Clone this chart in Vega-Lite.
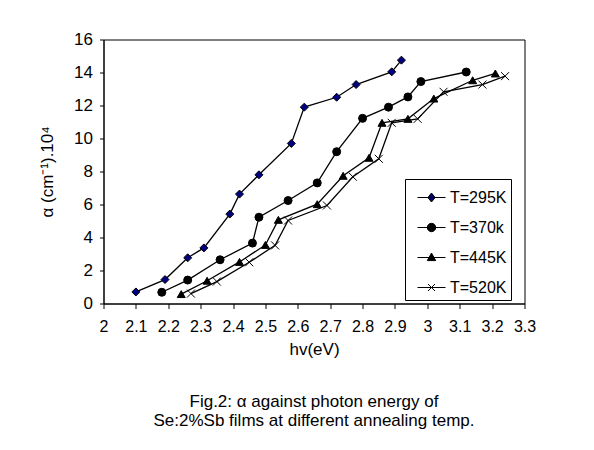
{
  "$schema": "https://vega.github.io/schema/vega-lite/v6.json",
  "autosize": "none",
  "width": 421,
  "height": 264,
  "padding": {"left": 103.5, "top": 39.5, "right": 69.5, "bottom": 146.5},
  "background": "white",
  "config": {
    "font": "Liberation Sans",
    "view": {"stroke": "black", "strokeWidth": 1},
    "axis": {"grid": false, "domainColor": "black", "tickColor": "black", "labelColor": "black", "titleColor": "black", "labelFont": "Liberation Sans", "titleFont": "Liberation Sans", "titleFontWeight": "normal"}
  },
  "title": {
    "text": ["Fig.2: α against photon energy of", "Se:2%Sb films at different annealing temp."],
    "orient": "bottom",
    "anchor": "middle",
    "fontSize": 17,
    "fontWeight": "normal",
    "font": "Liberation Sans",
    "color": "black",
    "offset": 36,
    "lineHeight": 19
  },
  "data": {
    "values": [
      {"s": "T=295K", "e": 2.10, "a": 0.70},
      {"s": "T=295K", "e": 2.19, "a": 1.45},
      {"s": "T=295K", "e": 2.26, "a": 2.77},
      {"s": "T=295K", "e": 2.31, "a": 3.37},
      {"s": "T=295K", "e": 2.39, "a": 5.42},
      {"s": "T=295K", "e": 2.42, "a": 6.63},
      {"s": "T=295K", "e": 2.48, "a": 7.80},
      {"s": "T=295K", "e": 2.58, "a": 9.70},
      {"s": "T=295K", "e": 2.62, "a": 11.90},
      {"s": "T=295K", "e": 2.72, "a": 12.50},
      {"s": "T=295K", "e": 2.78, "a": 13.27},
      {"s": "T=295K", "e": 2.89, "a": 14.04},
      {"s": "T=295K", "e": 2.92, "a": 14.75},
      {"s": "T=370k", "e": 2.18, "a": 0.68},
      {"s": "T=370k", "e": 2.26, "a": 1.42},
      {"s": "T=370k", "e": 2.36, "a": 2.65},
      {"s": "T=370k", "e": 2.46, "a": 3.66},
      {"s": "T=370k", "e": 2.48, "a": 5.23},
      {"s": "T=370k", "e": 2.57, "a": 6.24},
      {"s": "T=370k", "e": 2.66, "a": 7.31},
      {"s": "T=370k", "e": 2.72, "a": 9.20},
      {"s": "T=370k", "e": 2.80, "a": 11.22},
      {"s": "T=370k", "e": 2.88, "a": 11.90},
      {"s": "T=370k", "e": 2.94, "a": 12.52},
      {"s": "T=370k", "e": 2.98, "a": 13.45},
      {"s": "T=370k", "e": 3.12, "a": 14.03},
      {"s": "T=445K", "e": 2.24, "a": 0.57},
      {"s": "T=445K", "e": 2.32, "a": 1.38},
      {"s": "T=445K", "e": 2.42, "a": 2.52},
      {"s": "T=445K", "e": 2.50, "a": 3.55},
      {"s": "T=445K", "e": 2.54, "a": 5.07},
      {"s": "T=445K", "e": 2.66, "a": 6.02},
      {"s": "T=445K", "e": 2.74, "a": 7.74},
      {"s": "T=445K", "e": 2.82, "a": 8.83},
      {"s": "T=445K", "e": 2.86, "a": 10.95},
      {"s": "T=445K", "e": 2.94, "a": 11.19},
      {"s": "T=445K", "e": 3.02, "a": 12.42},
      {"s": "T=445K", "e": 3.14, "a": 13.53},
      {"s": "T=445K", "e": 3.21, "a": 13.94},
      {"s": "T=520K", "e": 2.27, "a": 0.60},
      {"s": "T=520K", "e": 2.35, "a": 1.33},
      {"s": "T=520K", "e": 2.45, "a": 2.50},
      {"s": "T=520K", "e": 2.53, "a": 3.52},
      {"s": "T=520K", "e": 2.57, "a": 5.03},
      {"s": "T=520K", "e": 2.69, "a": 5.94},
      {"s": "T=520K", "e": 2.77, "a": 7.68},
      {"s": "T=520K", "e": 2.85, "a": 8.77},
      {"s": "T=520K", "e": 2.89, "a": 10.95},
      {"s": "T=520K", "e": 2.97, "a": 11.19},
      {"s": "T=520K", "e": 3.05, "a": 12.83},
      {"s": "T=520K", "e": 3.17, "a": 13.27},
      {"s": "T=520K", "e": 3.24, "a": 13.78}
    ]
  },
  "encoding": {
    "x": {
      "field": "e", "type": "quantitative",
      "scale": {"domain": [2, 3.3], "nice": false, "zero": false},
      "axis": {"values": [2, 2.1, 2.2, 2.3, 2.4, 2.5, 2.6, 2.7, 2.8, 2.9, 3, 3.1, 3.2, 3.3], "format": ".1~f", "labelFontSize": 16, "tickSize": 5, "labelPadding": 10, "title": "hv(eV)", "titleFontSize": 17, "titlePadding": 7, "labelFlush": false, "labelOverlap": false}
    },
    "y": {
      "field": "a", "type": "quantitative",
      "scale": {"domain": [0, 16], "nice": false},
      "axis": {"values": [0, 2, 4, 6, 8, 10, 12, 14, 16], "labelFontSize": 17, "tickSize": 4, "labelPadding": 7, "title": "α (cm⁻¹).10⁴", "titleFontSize": 17, "titlePadding": 17, "labelFlush": false, "labelOverlap": false}
    }
  },
  "layer": [
    {
      "mark": {"type": "line", "color": "black", "strokeWidth": 1.3},
      "encoding": {"detail": {"field": "s"}}
    },
    {
      "mark": {"type": "point", "filled": true, "stroke": "black", "strokeWidth": 1, "opacity": 1, "size": 64},
      "encoding": {
        "shape": {"field": "s", "type": "nominal", "legend": null,
          "scale": {"domain": ["T=295K", "T=370k", "T=445K", "T=520K"], "range": ["diamond", "circle", "triangle-up", "M-1,-1L1,1M1,-1L-1,1"]}},
        "fill": {"field": "s", "type": "nominal", "legend": null,
          "scale": {"domain": ["T=295K", "T=370k", "T=445K", "T=520K"], "range": ["#000080", "black", "black", "black"]}}
      }
    },
    {
      "transform": [{"filter": "datum.e < 0"}],
      "mark": {"type": "point", "filled": true, "strokeWidth": 1, "opacity": 1},
      "encoding": {
        "shape": {"field": "s", "type": "nominal",
          "scale": {"domain": ["T=295K", "T=370k", "T=445K", "T=520K"], "range": [
            "M-1,0L1,0M0,-0.32L0.26,0L0,0.32L-0.26,0Z",
            "M-1,0L1,0M-0.3,0A0.3,0.3 0 1,0 0.3,0A0.3,0.3 0 1,0 -0.3,0Z",
            "M-1,0L1,0M0,-0.32L0.3,0.22L-0.3,0.22Z",
            "M-1,0L1,0M-0.25,-0.25L0.25,0.25M0.25,-0.25L-0.25,0.25"]},
          "legend": {"title": null, "orient": "none", "legendX": 301.5, "legendY": 139.5,
            "symbolSize": 784, "symbolStrokeWidth": 1,
            "labelFontSize": 16, "labelFont": "Liberation Sans", "labelColor": "black", "labelOffset": 4,
            "rowPadding": 7, "padding": 4, "symbolOffset": 8,
            "strokeColor": "black", "fillColor": "white",
            "labelExpr": "datum.label == 'T=445K' || datum.label == 'T=520K' ? '\u00a0' + datum.label + '\u00a0\u00a0\u00a0' : datum.label + '\u00a0\u00a0\u00a0\u00a0'"}},
        "fill": {"field": "s", "type": "nominal",
          "scale": {"domain": ["T=295K", "T=370k", "T=445K", "T=520K"], "range": ["#000080", "black", "black", "black"]}},
        "stroke": {"field": "s", "type": "nominal",
          "scale": {"domain": ["T=295K", "T=370k", "T=445K", "T=520K"], "range": ["black", "black", "black", "black"]}}
      }
    }
  ],
  "resolve": {"scale": {"shape": "independent", "fill": "independent", "stroke": "independent"}}
}
